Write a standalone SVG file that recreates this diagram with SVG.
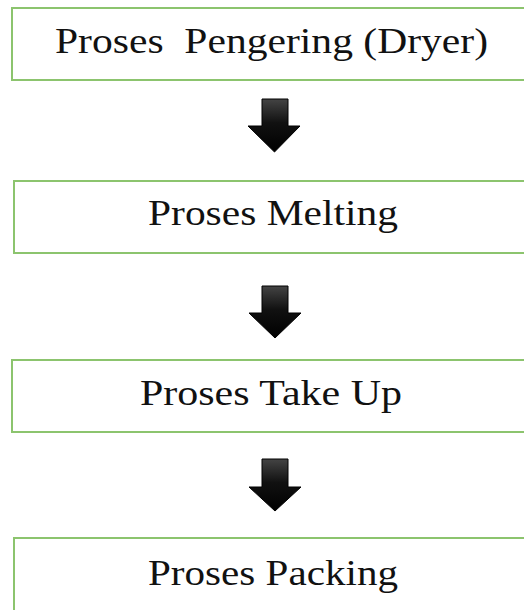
<svg xmlns="http://www.w3.org/2000/svg" width="524" height="610" viewBox="0 0 524 610">
<defs>
<style>
.box{fill:#ffffff;stroke:#8cc46e;stroke-width:2}
.lbl{font-size:35px;fill:#111111;text-anchor:middle}
.arr{fill:url(#g);stroke:#000000;stroke-width:1;stroke-linejoin:miter}
</style>
<linearGradient id="g" x1="0" y1="0" x2="0" y2="1">
<stop offset="0" stop-color="#444444"/>
<stop offset="0.45" stop-color="#111111"/>
<stop offset="1" stop-color="#000000"/>
</linearGradient>
</defs>
<rect width="524" height="610" fill="#ffffff"/>
<g id="n1">
<rect class="box" x="12" y="8" width="530" height="72"/>
<text class="lbl" font-family="Liberation Serif, serif" x="271.5" y="53" textLength="433" lengthAdjust="spacingAndGlyphs" xml:space="preserve">Proses  Pengering (Dryer)</text>
</g>
<g id="n2">
<rect class="box" x="14" y="181" width="530" height="72"/>
<text class="lbl" font-family="Liberation Serif, serif" x="273" y="225" textLength="250" lengthAdjust="spacingAndGlyphs">Proses Melting</text>
</g>
<g id="n3">
<rect class="box" x="12" y="360" width="530" height="72"/>
<text class="lbl" font-family="Liberation Serif, serif" x="271" y="405" textLength="262" lengthAdjust="spacingAndGlyphs">Proses Take Up</text>
</g>
<g id="n4">
<rect class="box" x="14" y="538" width="530" height="80"/>
<text class="lbl" font-family="Liberation Serif, serif" x="273" y="585" textLength="250" lengthAdjust="spacingAndGlyphs">Proses Packing</text>
</g>
<g id="connectors">
<path class="arr" d="M262,99 H288 V126 H300 L274.5,152 L248,126 H262 Z"/>
<path class="arr" d="M262,286 H288 V313 H301 L275,338 L249,313 H262 Z"/>
<path class="arr" d="M262,459 H288 V487 H301 L275,511 L249,487 H262 Z"/>
</g>
</svg>
